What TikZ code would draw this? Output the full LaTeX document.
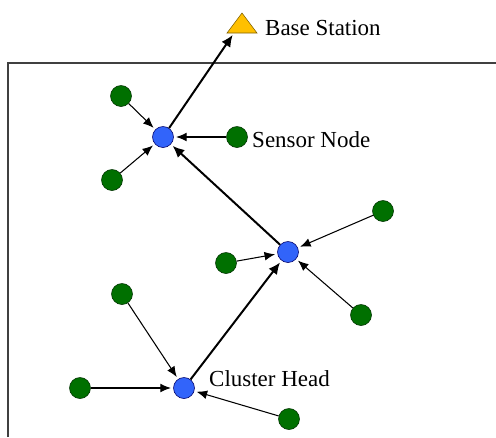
\documentclass[tikz,border=0pt]{standalone}
\usepackage{fontspec}
\setmainfont{Liberation Serif}
\usetikzlibrary{arrows.meta}
\definecolor{sgreen}{RGB}{0,112,0}
\definecolor{hblue}{RGB}{50,100,250}
\definecolor{bsyellow}{RGB}{255,192,0}
\begin{document}
\begin{tikzpicture}[
    sensor/.style={circle, draw=black!80!green, fill=sgreen, line width=0.5pt, minimum size=21*0.03cm, inner sep=0pt},
    head/.style={circle, draw=blue!40!black, fill=hblue, line width=0.5pt, minimum size=21*0.03cm, inner sep=0pt},
    lbl/.style={anchor=west, inner sep=0pt, font=\fontsize{19.6}{22}\selectfont},
    thin/.style={-{Latex[length=9pt, width=7.5pt]}, line width=0.9pt, shorten >=2pt},
    thick/.style={-{Latex[length=10pt, width=9pt]}, line width=1.7pt, shorten >=2pt}]
    \def\x{0.03}
    \def\y{-0.03}
    \useasboundingbox (0*\x, 0*\y) rectangle (496*\x, 437*\y);
    % frame
    \draw [black!75, line width=1pt] (8*\x, 437*\y) -- (8*\x, 63*\y) -- (496*\x, 63*\y);
    % base station
    \filldraw [fill=bsyellow, draw=black!50!bsyellow, line width=0.5pt]
      (227*\x, 33*\y) -- (257*\x, 33*\y) -- (242*\x, 13*\y) -- cycle;
    \coordinate (BS) at (234*\x, 33*\y);
    \node [lbl] (T0) at (265*\x, 28*\y) {Base Station};
    % cluster heads
    \node [head] (H0) at (163*\x, 137*\y) {};
    \node [head] (H1) at (288*\x, 252*\y) {};
    \node [head] (H2) at (184*\x, 388*\y) {};
    % sensor nodes
    \node [sensor] (S0_0) at (121*\x, 96*\y) {};
    \node [sensor] (S0_1) at (237*\x, 137*\y) {};
    \node [sensor] (S0_2) at (112*\x, 180*\y) {};
    \node [sensor] (S1_0) at (383*\x, 211*\y) {};
    \node [sensor] (S1_1) at (226*\x, 263*\y) {};
    \node [sensor] (S1_2) at (361*\x, 315*\y) {};
    \node [sensor] (S2_0) at (122*\x, 294*\y) {};
    \node [sensor] (S2_1) at (80*\x, 388*\y) {};
    \node [sensor] (S2_2) at (289*\x, 419*\y) {};
    \node [lbl] (T1) at (252*\x, 140*\y) {Sensor Node};
    \node [lbl] (T2) at (209*\x, 379*\y) {Cluster Head};
    % links
    \path (H0) edge [thick] (BS);
    \path (H1) edge [thick] (H0);
    \path (H2) edge [thick] (H1);
    \path (S0_0) edge [thin] (H0);
    \path (S0_1) edge [thin] (H0);
    \path (S0_2) edge [thin] (H0);
    \path (S1_0) edge [thin] (H1);
    \path (S1_1) edge [thin] (H1);
    \path (S1_2) edge [thin] (H1);
    \path (S2_0) edge [thin] (H2);
    \path (S2_1) edge [thin] (H2);
    \path (S2_2) edge [thin] (H2);
  \end{tikzpicture}
\end{document}
